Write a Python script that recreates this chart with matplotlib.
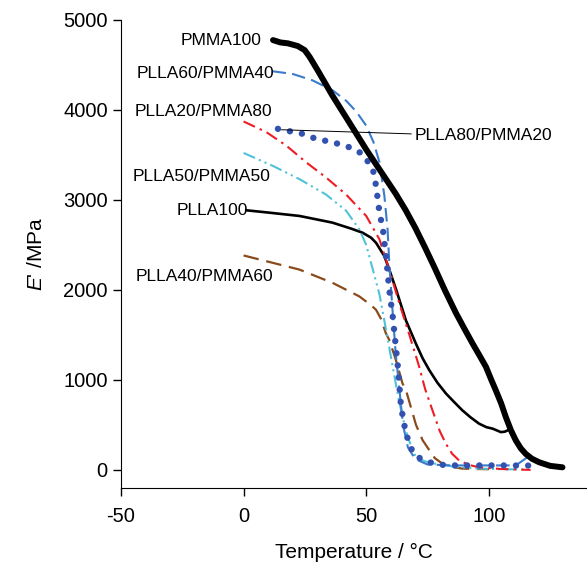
import matplotlib
matplotlib.use("Agg")
import matplotlib.pyplot as plt

plt.rcParams["font.family"] = ["Liberation Sans", "DejaVu Sans"]
plt.rcParams["mathtext.fontset"] = "custom"
plt.rcParams["mathtext.it"] = "Liberation Sans:italic"
plt.rcParams["mathtext.rm"] = "Liberation Sans"
plt.rcParams["axes.unicode_minus"] = False

# storage modulus E' (MPa) vs temperature (°C)
pmma100_t = [12, 15, 18.1, 22.1, 24.9, 26.9, 30, 36.2, 44.5, 50, 56.6, 62, 66,
             70, 74, 78, 82, 86.6, 90, 93.3, 96, 98.8, 101, 102.8, 105, 106.9,
             109, 111, 113, 115, 117.5, 120.5, 125, 130]
pmma100_e = [4776, 4750, 4740, 4710, 4665, 4590, 4450, 4160, 3800, 3560, 3290,
             3070, 2890, 2690, 2470, 2240, 2000, 1742, 1570, 1407, 1280, 1146,
             1000, 886, 740, 588, 440, 327, 240, 179, 125, 85, 45, 29]

p60_t = [11.8, 20, 28, 36.2, 41.9, 46, 50, 53, 55.4, 57.4, 58.7, 59.4, 60.8,
         62, 63.5, 65, 67, 70, 75, 85, 100, 108, 111, 115.7]
p60_e = [4430, 4400, 4330, 4220, 4100, 3980, 3825, 3640, 3418, 3045, 2673,
         2300, 1742, 1300, 900, 500, 250, 120, 60, 50, 50, 50, 50, 141]

p20_t = [0, 9.3, 17.4, 25.5, 33.6, 41.8, 50, 55.4, 59.4, 63.5, 67.6, 71.6, 74,
         77, 80, 82.5, 85, 87.9, 92, 96, 105, 117]
p20_e = [3872, 3753, 3604, 3418, 3250, 3060, 2822, 2561, 2226, 1850, 1500, 1146,
         900, 662, 430, 290, 180, 104, 55, 29, 10, 0]

p80_t = [14, 17.4, 24.2, 29.6, 36.4, 43.2, 48.6, 52.7, 54, 55.4, 56.8, 58.2,
         59.4, 60.8, 61.5, 62.9, 64.2, 66.2, 68.9, 70.3, 73, 75.8, 79.8, 85, 95,
         105, 116]
p80_e = [3790, 3771, 3734, 3678, 3641, 3585, 3511, 3343, 3157, 2860, 2673, 2338,
         2000, 1705, 1519, 1146, 699, 402, 200, 160, 110, 85, 59, 50, 50, 50, 48]

p50_t = [0, 11.8, 22.8, 33.6, 41.8, 47.2, 50, 52.7, 55.4, 58.2, 60.8, 63, 64.8,
         66.8, 68.9, 70.3, 74, 78.4, 86, 96, 105, 115]
p50_e = [3522, 3380, 3231, 3060, 2880, 2673, 2500, 2226, 1950, 1540, 1146, 820,
         588, 380, 216, 141, 95, 67, 35, 15, 8, 5]

plla100_t = [1.1, 10, 22.8, 36.2, 44, 48.5, 52, 54, 57.4, 59.4, 62.2, 66.2,
             70.3, 73, 75.7, 79, 82.5, 86, 89.2, 92.5, 96, 99, 101.6, 104.9,
             106.5, 107.6]
plla100_e = [2885, 2860, 2822, 2748, 2680, 2636, 2580, 2524, 2375, 2226, 2003,
             1660, 1400, 1240, 1109, 970, 849, 750, 662, 585, 514, 475, 458,
             420, 425, 439]

p40_t = [0, 9.3, 22.8, 36.4, 47.2, 52, 54, 56, 58, 59.4, 62.1, 64.8, 66.2, 70.3,
         73, 75.8, 78, 81.2, 85, 89, 95, 100]
p40_e = [2383, 2319, 2226, 2077, 1928, 1830, 1779, 1680, 1519, 1444, 1221, 960,
         886, 500, 330, 216, 130, 67, 35, 15, 10, 8]

# curve labels: (text, T, E, ha)
labels = [
    ("PMMA100", 7.4, 4773, "right"),
    ("PLLA60/PMMA40", 12.6, 4404, "right"),
    ("PLLA20/PMMA80", 11.8, 3980, "right"),
    ("PLLA50/PMMA50", 11.0, 3265, "right"),
    ("PLLA100", 2.0, 2885, "right"),
    ("PLLA40/PMMA60", 12.0, 2148, "right"),
    ("PLLA80/PMMA20", 69.6, 3712, "left"),
]
leader_t = [15.5, 68.3]
leader_e = [3780, 3734]

fig = plt.figure(figsize=(5.87, 5.70), dpi=100)
ax = fig.add_axes([0.206, 0.144, 0.794, 0.821])

ax.plot(p40_t, p40_e, color="#8b4a1c", lw=1.6, ls=(0, (7, 3.5)))
ax.plot(plla100_t, plla100_e, color="black", lw=1.9, solid_joinstyle="round")
ax.plot(p50_t, p50_e, color="#4ec3d8", lw=1.5, ls=(0, (6, 2, 1, 2, 1, 2)))
ax.plot(p20_t, p20_e, color="#ee1c24", lw=1.5, ls=(0, (6, 2.5, 1.2, 2.5)))
ax.plot(p60_t, p60_e, color="#3a7bcc", lw=1.5, ls=(0, (6.5, 3)))
ax.plot(p80_t, p80_e, color="#3352b0", lw=4.6, ls=(0, (0.01, 1.9)),
        dash_capstyle="round")
ax.plot(pmma100_t, pmma100_e, color="black", lw=4.3, solid_capstyle="round",
        solid_joinstyle="round", clip_on=False)
ax.plot(leader_t, leader_e, color="black", lw=0.7)

for txt, t, e, ha in labels:
    ax.text(t, e, txt, ha=ha, va="center", fontsize=12.5)

ax.set_xlim(-50, 140)
ax.set_ylim(-200, 5000)
ax.set_xticks([-50, 0, 50, 100])
ax.set_yticks([0, 1000, 2000, 3000, 4000, 5000])
ax.spines["top"].set_visible(False)
ax.spines["right"].set_visible(False)
ax.tick_params(direction="out", length=6, width=1, labelsize=14.5)
ax.tick_params(axis="x", pad=8)
ax.set_xlabel("Temperature / °C", fontsize=15, labelpad=12)
ax.set_ylabel(r"$E$' /MPa", fontsize=15, labelpad=12)

fig.savefig("out.png", dpi=100)
